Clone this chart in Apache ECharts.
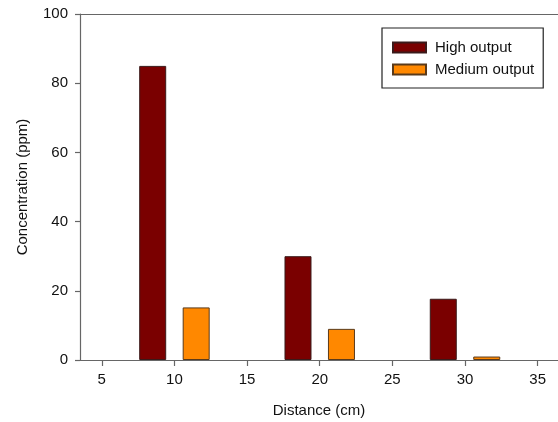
<!DOCTYPE html>
<html>
<head>
<meta charset="utf-8">
<script src="https://cdn.jsdelivr.net/npm/echarts@6/dist/echarts.min.js"></script>
<style>
html,body{margin:0;padding:0;background:#fff;}
#chart{width:558px;height:422px;}
</style>
</head>
<body>
<div id="chart"></div>
<script>
const distances = [10, 20, 30];
const highOutput = [85, 30, 17.7];
const mediumOutput = [15.2, 9, 1];
const xTicks = [5, 10, 15, 20, 25, 30, 35];
const yTicks = [0, 20, 40, 60, 80, 100];
const seriesNames = ['High output', 'Medium output'];

const chart = echarts.init(document.getElementById('chart'));
const font = 'Liberation Sans, Arial, sans-serif';
const axisColor = '#666';
const textColor = '#111';
chart.setOption({
  animation: false,
  textStyle: {fontFamily: font},
  grid: {left: 80, right: 0, top: 14, bottom: 62, containLabel: false, outerBoundsMode: 'none'},
  legend: {
    show: true,
    orient: 'vertical',
    left: 382, top: 28,
    padding: [12, 9, 11, 10],
    icon: 'rect',
    itemWidth: 33, itemHeight: 10, itemGap: 7,
    borderColor: '#222', borderWidth: 1.2,
    textStyle: {fontSize: 15, color: textColor, fontFamily: font, padding: [0, 0, 0, 4]},
    data: seriesNames
  },
  xAxis: [{
    type: 'value',
    min: 3.5, max: 36.4,
    name: 'Distance (cm)', nameLocation: 'middle', nameGap: 43,
    nameTextStyle: {fontSize: 15, color: textColor, fontFamily: font},
    axisLine: {show: true, lineStyle: {color: axisColor, width: 1.2}},
    axisTick: {show: true, length: 6, inside: false, customValues: xTicks, lineStyle: {color: axisColor, width: 1.2}},
    axisLabel: {fontSize: 15, color: textColor, margin: 12, customValues: xTicks, fontFamily: font},
    splitLine: {show: false}
  }, {
    type: 'value', position: 'top',
    min: 3.5, max: 36.4,
    axisLine: {show: true, onZero: false, lineStyle: {color: axisColor, width: 1.2}},
    axisTick: {show: false}, axisLabel: {show: false}, splitLine: {show: false}
  }],
  yAxis: {
    type: 'value', min: 0, max: 100, interval: 20,
    name: 'Concentration (ppm)', nameLocation: 'middle', nameGap: 50,
    nameTextStyle: {fontSize: 15, color: textColor, fontFamily: font},
    axisLine: {show: true, lineStyle: {color: axisColor, width: 1.2}},
    axisTick: {show: true, length: 5, inside: false, lineStyle: {color: axisColor, width: 1.2}},
    axisLabel: {fontSize: 15, color: textColor, margin: 12, fontFamily: font},
    splitLine: {show: false}
  },
  series: [{
    name: seriesNames[0], type: 'bar',
    data: distances.map((d, i) => [d, highOutput[i]]),
    barWidth: 27, barGap: '61%',
    itemStyle: {color: '#7a0000', borderColor: '#3a1a1a', borderWidth: 1}
  }, {
    name: seriesNames[1], type: 'bar',
    data: distances.map((d, i) => [d, mediumOutput[i]]),
    barWidth: 27, barGap: '61%',
    itemStyle: {color: '#ff8800', borderColor: '#5a3a1a', borderWidth: 1}
  }]
});
</script>
</body>
</html>
